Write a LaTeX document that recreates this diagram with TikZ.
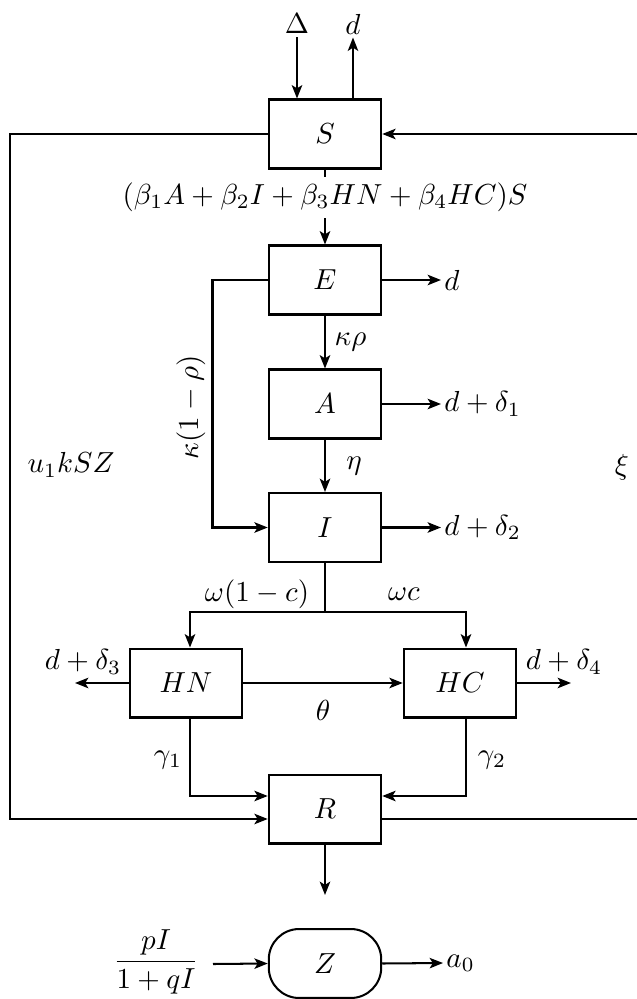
\documentclass[tikz,border=0pt]{standalone}
\usepackage{amsmath}
\usetikzlibrary{arrows.meta,calc}
\begin{document}
\begin{tikzpicture}[x=0.345pt,y=-0.345pt,
  box/.style={draw, line width=0.7pt, minimum width=38.8pt, minimum height=23.8pt, inner sep=0pt},
  conn/.style={line width=0.7pt, -{Stealth[length=4.6pt,width=3.6pt,inset=1.1pt]}},
  plain/.style={line width=0.7pt},
  lbl/.style={inner sep=1pt}]
\useasboundingbox (0,0) rectangle (637,999);
% compartments
\node[box] (S)  at (325,134) {$S$};
\node[box] (E)  at (325,280) {$E$};
\node[box] (A)  at (325,404) {$A$};
\node[box] (I)  at (325,527.5) {$I$};
\node[box] (HN) at (186,683) {$HN$};
\node[box] (HC) at (460,683) {$HC$};
\node[box] (R)  at (325,809) {$R$};
\node[draw, line width=0.7pt, rounded corners=10.5pt, minimum width=38.8pt, minimum height=23.8pt, inner sep=0pt] (Z) at (325,963.5) {$Z$};
% top of S
\node[lbl] (Delta) at (297,24) {$\Delta$};
\node[lbl] (dtop) at (353,24) {$d$};
\draw[conn] (Delta.south) -- (Delta.south |- S.north);
\draw[conn] (dtop.south |- S.north) -- (dtop.south);
% S -> E
\draw[conn] (S) -- (E) node[pos=0.37, fill=white, inner sep=2pt] (force) {$(\beta_1A+\beta_2I+\beta_3HN+\beta_4HC)S$};
% E
\node[lbl, anchor=west] (dE) at (441,280) {$d$};
\draw[conn] (E.east) -- (dE.west);
\draw[conn] (E) -- (A) node[midway, right, lbl, xshift=2pt] (kr) {$\kappa\rho$};
\coordinate (Ek) at (212.5,280);
\draw[conn] (E.west) -- (Ek) |- (I.west);
\node[rotate=90, lbl] (k1r) at (191,407) {$\kappa(1-\rho)$};
% A
\node[lbl, anchor=west] (dA) at (441,404) {$d+\delta_1$};
\draw[conn] (A.east) -- (dA.west);
\draw[conn] (A) -- (I) node[midway, right, lbl, xshift=6pt] (eta) {$\eta$};
% I
\node[lbl, anchor=west] (dI) at (441,527.5) {$d+\delta_2$};
\draw[conn] (I.east) -- (dI.west);
\coordinate (J) at (325,612);
\draw[plain] (I.south) -- (J);
\draw[conn] (J) -| ($(HN.north)+(4,0)$);
\draw[conn] (J) -| ($(HC.north)+(6,0)$);
\node[lbl] (w1c) at (257,594) {$\omega(1-c)$};
\node[lbl] (wc) at (404,594) {$\omega c$};
% HN, HC
\draw[conn] (HN.east) -- (HC.west) ;
\node[lbl] (theta) at (323,710) {$\theta$};
\coordinate (dHNend) at (75,683);
\draw[conn] (HN.west) -- (dHNend);
\node[lbl] (dHN) at (83,662) {$d+\delta_3$};
\coordinate (dHCend) at (571,683);
\draw[conn] (HC.east) -- (dHCend);
\node[lbl] (dHC) at (564,662) {$d+\delta_4$};
\draw[conn] ($(HN.south)+(4,0)$) |- ($(R.west)+(0,-13)$);
\draw[conn] ($(HC.south)+(6,0)$) |- ($(R.east)+(0,-13)$);
\node[lbl] (g1) at (168,760) {$\gamma_1$};
\node[lbl] (g2) at (492,760) {$\gamma_2$};
% feedback loops
\coordinate (Lx) at (10,0);
\coordinate (Rx) at (652,0);
\draw[conn] (S.west) -- (S.west -| Lx) |- ($(R.west)+(0,10)$);
\draw[conn] ($(R.east)+(0,10)$) -| (Rx |- S.east) -- (S.east);
\node[lbl] (u1) at (71,465) {$u_1kSZ$};
\node[lbl] (xi) at (622,467) {$\xi$};
% R -> Z region
\coordinate (Rend) at (325,895);
\draw[conn] (R.south) -- (Rend);
\node[lbl] (frac) at (156,962) {$\dfrac{pI}{1+qI}$};
\coordinate (Zin) at (213,964);
\draw[conn] (Zin) -- (Z.west);
\node[lbl, anchor=west] (a0) at (443,963) {$a_0$};
\draw[conn] (Z.east) -- (a0.west);
\end{tikzpicture}
\end{document}
